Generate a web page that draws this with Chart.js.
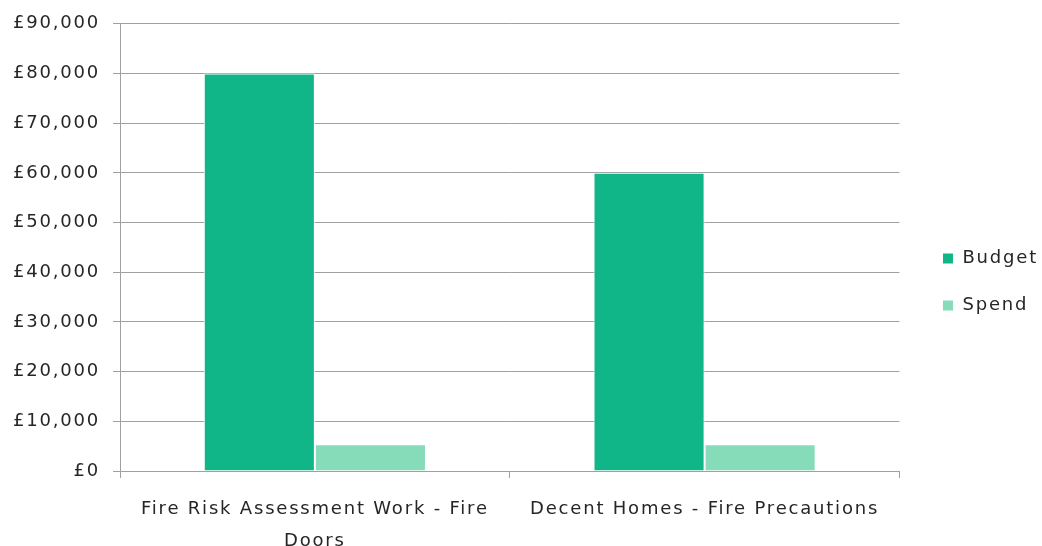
<!DOCTYPE html>
<html lang="en">

<head>
  <meta charset="UTF-8">
  <title>Budget vs Spend</title>
  <script src="https://cdn.jsdelivr.net/npm/chart.js"></script>
  <style>
    html, body { margin: 0; padding: 0; background: #fff; }
    #wrap { width: 1042px; height: 546px; }
  </style>
</head>

<body>
  <div id="wrap">
    <canvas id="myChart" width="1042" height="546"></canvas>
  </div>

  <script>
    // data
    const categories = [
      ['Fire Risk Assessment Work - Fire', 'Doors'],
      'Decent Homes - Fire Precautions'
    ];
    const budget = [80000, 60000];
    const spend = [5400, 5400];

    const textColor = '#262626';
    const lineColor = '#a0a0a0';
    const fontFamily = '"DejaVu Sans", sans-serif';

    // the original text is set quite wide, so space the letters out a bit
    const wideText = {
      id: 'wideText',
      beforeLayout(chart) { chart.ctx.letterSpacing = '1.8px'; },
      beforeDraw(chart) { chart.ctx.letterSpacing = '1.8px'; },
      afterLayout(chart) {
        // legend sits a little further from the plot than its padding allows
        const lg = chart.legend;
        const dx = chart.chartArea.right + 43 - (lg.left + 29);
        lg.left += dx;
        lg.right += dx;
        lg.top += 5;
        lg.bottom += 5;
      }
    };

    const ctx = document.getElementById('myChart');

    const chart = new Chart(ctx, {
      type: 'bar',
      data: {
        labels: categories,
        datasets: [
          {
            label: 'Budget',
            data: budget,
            backgroundColor: '#10b588',
            borderColor: '#ffffff',
            borderWidth: 1
          },
          {
            label: 'Spend',
            data: spend,
            backgroundColor: '#86dbb9',
            borderColor: '#ffffff',
            borderWidth: 1
          }
        ]
      },
      plugins: [wideText],
      options: {
        responsive: false,
        animation: { duration: 0 },
        layout: {
          padding: { left: 8, top: 8, right: 8, bottom: 0 }
        },
        datasets: {
          bar: {
            barPercentage: 1,
            categoryPercentage: 0.57
          }
        },
        scales: {
          x: {
            grid: {
              offset: true,
              drawOnChartArea: false,
              drawTicks: true,
              tickLength: 7,
              color: lineColor
            },
            border: { display: true, color: lineColor, width: 1 },
            ticks: {
              color: textColor,
              font: { family: fontFamily, size: 18, lineHeight: 1.78 },
              padding: 15,
              maxRotation: 0
            },
            afterFit: function(scale) {
              scale.height = 75;
            }
          },
          y: {
            min: 0,
            max: 90000,
            grid: {
              color: lineColor,
              tickLength: 7
            },
            border: { display: true, color: lineColor, width: 1 },
            ticks: {
              stepSize: 10000,
              color: textColor,
              font: { family: fontFamily, size: 18 },
              padding: 13,
              callback: function(value) {
                return '£' + value.toLocaleString('en-GB');
              }
            },
            afterFit: function(scale) {
              scale.width = 112;
            }
          }
        },
        plugins: {
          legend: {
            display: true,
            position: 'right',
            labels: {
              color: textColor,
              font: { family: fontFamily, size: 18 },
              boxWidth: 11,
              boxHeight: 11,
              padding: 29
            }
          },
          tooltip: { enabled: false }
        }
      }
    });
  </script>
</body>

</html>
